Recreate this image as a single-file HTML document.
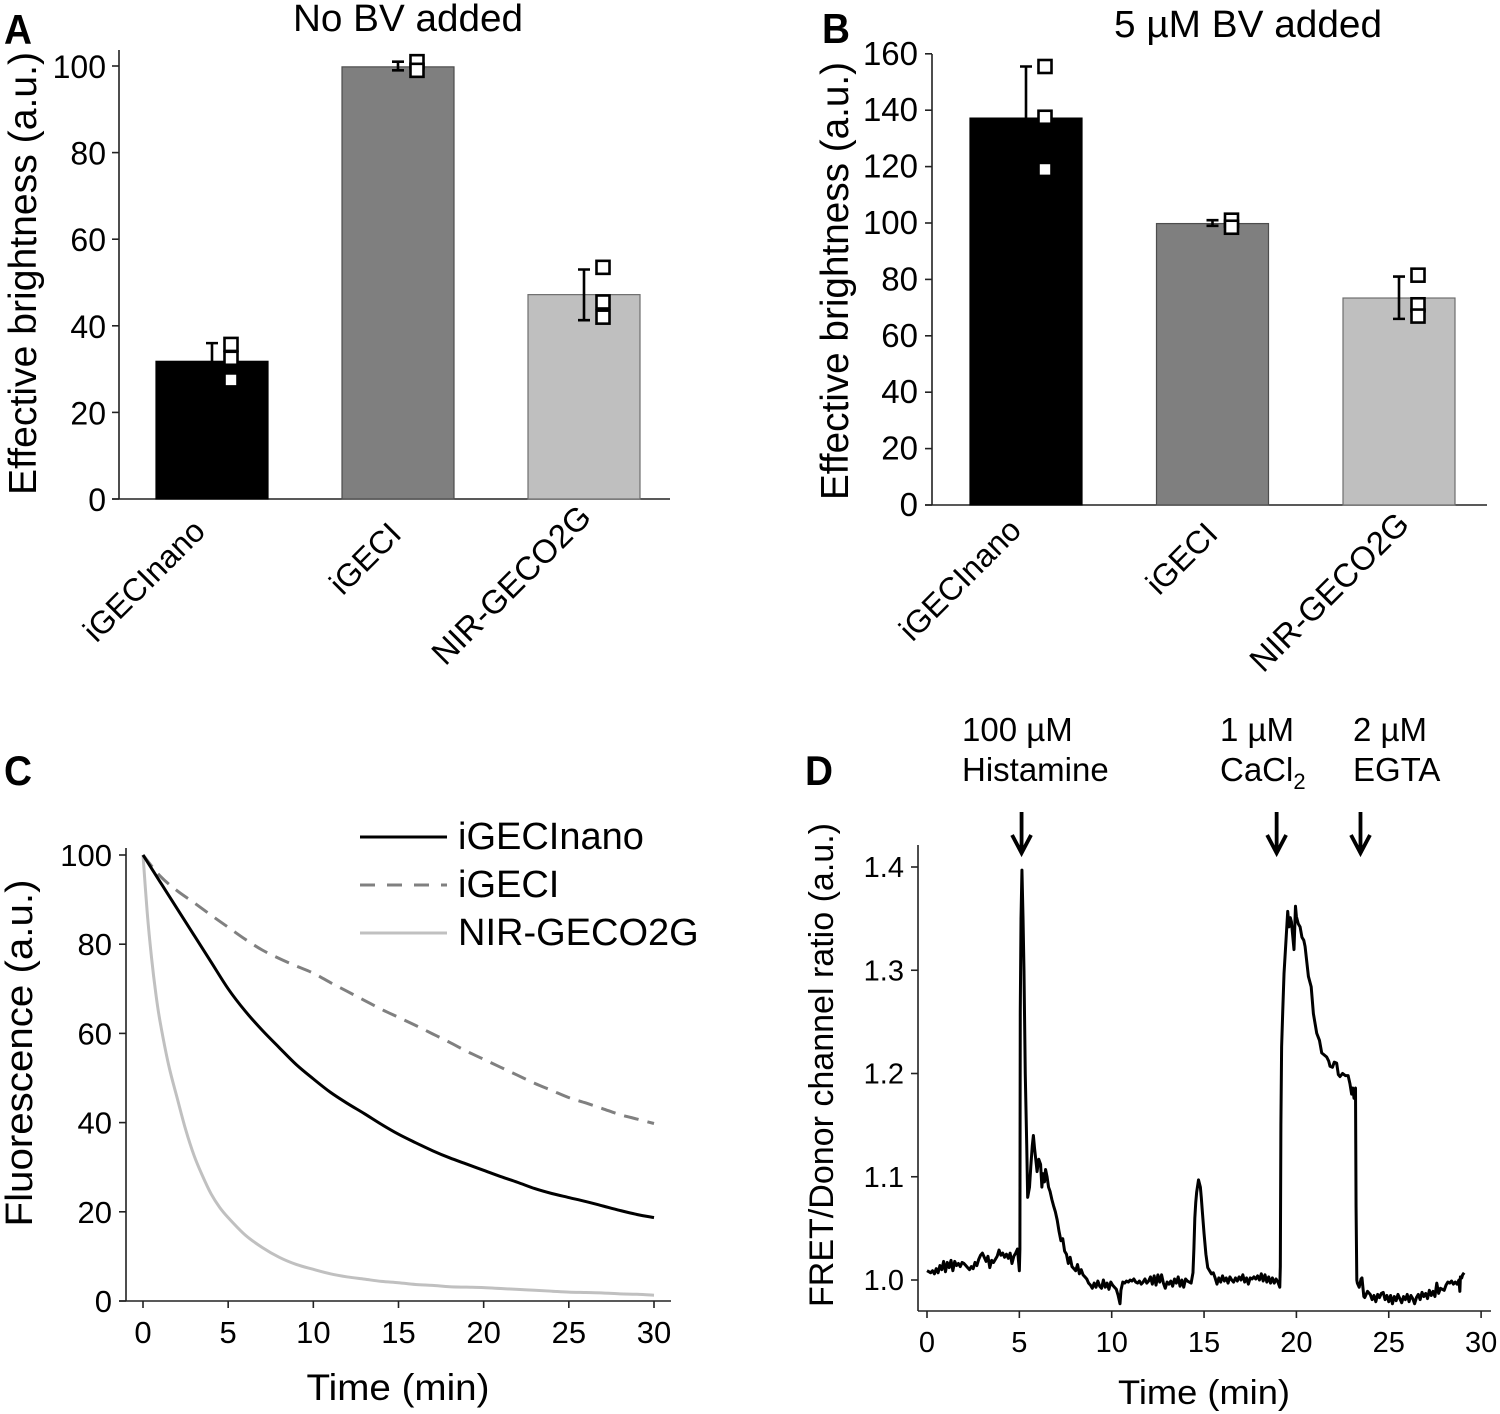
<!DOCTYPE html>
<html lang="en">
<head>
<meta charset="utf-8">
<title>Effective brightness, photostability and FRET response of iGECI variants</title>
<style>
html,body{margin:0;padding:0;background:#fff;}
svg{display:block;}
text{font-family:"Liberation Sans",Arial,sans-serif;fill:#000;}
</style>
</head>
<body>
<svg id="figure" xmlns="http://www.w3.org/2000/svg" width="1500" height="1414" viewBox="0 0 1500 1414"></svg>
<script>
/* ---------- Panel A / B data ---------- */
const barCategories = ["iGECInano", "iGECI", "NIR-GECO2G"];
const barTicksA = [0, 20, 40, 60, 80, 100];
const barMeansA = [31.8, 99.8, 47.2];
const barErrHighA = [36, 101, 53];
const barErrLowA = [27.6, 99, 41.3];
const barPointsA = [[35.7, 32.5, 27.5], [101, 99], [53.5, 45.5, 42]];
const barTicksB = [0, 20, 40, 60, 80, 100, 120, 140, 160];
const barMeansB = [137.2, 99.8, 73.4];
const barErrHighB = [155.5, 101, 81];
const barErrLowB = [119, 99, 66];
const barPointsB = [[155.5, 137.5, 119], [101, 98.5], [81.5, 71, 67]];

/* ---------- Panel C data ---------- */
const decayTicksX = [0, 5, 10, 15, 20, 25, 30];
const decayTicksY = [0, 20, 40, 60, 80, 100];
const nanoTimes = [0, 1, 2, 3, 4, 5, 6, 7, 8, 9, 10, 11, 12, 13, 14, 15, 16, 17, 18, 19, 20, 21, 22, 23, 24, 25, 26, 27, 28, 29, 30];
const nanoValues = [100, 94, 88, 82, 76, 70, 65, 60.7, 56.8, 53, 49.8, 46.8, 44.3, 42, 39.6, 37.4, 35.5, 33.7, 32.1, 30.7, 29.3, 27.9, 26.6, 25.2, 24.1, 23.2, 22.3, 21.3, 20.3, 19.4, 18.7];
const igeciTimes = [0, 1, 2, 3, 4, 5, 6, 7, 8, 9, 10, 11, 12, 13, 14, 15, 16, 17, 18, 19, 20, 21, 22, 23, 24, 25, 26, 27, 28, 29, 30];
const igeciValues = [100, 95.3, 92, 89.3, 86.5, 83.8, 81.1, 78.7, 76.8, 75.1, 73.5, 71.4, 69.4, 67.4, 65.4, 63.6, 61.8, 59.9, 58, 56, 54.2, 52.4, 50.6, 48.8, 47.2, 45.6, 44.4, 43.1, 41.8, 40.8, 39.8];
const nirTimes = [0, 0.25, 0.5, 0.75, 1, 1.5, 2, 2.5, 3, 3.5, 4, 4.5, 5, 6, 7, 8, 9, 10, 11, 12, 13, 14, 15, 16, 17, 18, 19, 20, 21, 22, 23, 24, 25, 26, 27, 28, 29, 30];
const nirValues = [100, 87, 77, 69, 62.7, 53, 45.6, 38.5, 32.6, 28, 24, 21, 18.7, 14.8, 12, 9.8, 8.2, 7.1, 6.1, 5.4, 4.9, 4.4, 4.1, 3.7, 3.5, 3.2, 3.1, 3, 2.8, 2.6, 2.4, 2.2, 2, 1.9, 1.8, 1.6, 1.5, 1.3];

/* ---------- Panel D data ---------- */
const ratioTicksX = [0, 5, 10, 15, 20, 25, 30];
const ratioTicksY = [1.0, 1.1, 1.2, 1.3, 1.4];
const arrowTimes = [5.12, 18.93, 23.47];
const traceTimes = [
0,.1,.2,.3,.4,.5,.6,.7,.8,.9,
1,1.1,1.2,1.3,1.4,1.5,1.6,1.7,1.8,1.9,
2,2.1,2.2,2.3,2.4,2.5,2.6,2.7,2.8,2.9,
3,3.1,3.2,3.3,3.4,3.5,3.6,3.7,3.8,3.9,
4,4.1,4.2,4.3,4.4,4.5,4.6,4.7,4.8,4.9,
5.0,5.03,5.05,5.09,5.14,5.2,5.25,5.32,5.4,5.45,
5.5,5.55,5.62,5.7,5.76,5.82,5.9,5.96,6.05,6.15,
6.22,6.28,6.36,6.42,6.5,6.58,6.66,6.76,6.85,6.95,
7.05,7.15,7.25,7.35,7.45,7.55,7.65,7.75,7.85,7.95,
8.05,8.15,8.25,8.35,8.45,8.55,8.65,8.75,8.85,8.95,
9.05,9.15,9.25,9.35,9.45,9.55,9.65,9.75,9.85,9.95,
10.05,10.15,10.25,10.35,10.45,10.5,10.6,10.7,10.8,10.9,
11,11.1,11.2,11.3,11.4,11.5,11.6,11.7,11.8,11.9,
12,12.1,12.2,12.3,12.4,12.5,12.6,12.7,12.8,12.9,
13,13.1,13.2,13.3,13.4,13.5,13.6,13.7,13.8,13.9,
14,14.1,14.2,14.3,14.4,14.45,14.5,14.55,14.6,14.7,
14.8,14.85,14.9,15,15.1,15.2,15.3,15.4,15.5,15.6,
15.7,15.8,15.9,16,16.1,16.2,16.3,16.4,16.5,16.6,
16.7,16.8,16.9,17,17.1,17.2,17.3,17.4,17.5,17.6,
17.7,17.8,17.9,18,18.1,18.2,18.3,18.4,18.5,18.6,
18.7,18.8,18.9,19.0,19.1,19.13,19.16,19.2,19.26,19.33,
19.44,19.53,19.6,19.67,19.73,19.87,19.95,20.0,20.1,20.2,
20.3,20.4,20.47,20.65,20.8,20.92,21.1,21.25,21.37,21.64,
21.75,21.82,21.95,22.05,22.18,22.27,22.36,22.5,22.65,22.8,
22.9,22.99,23.05,23.12,23.2,23.23,23.27,23.3,23.4,23.5,
23.55,23.65,23.7,23.85,24,24.1,24.2,24.3,24.4,24.5,
24.6,24.7,24.8,24.9,25,25.1,25.2,25.3,25.4,25.5,
25.6,25.7,25.8,25.9,26,26.1,26.2,26.3,26.4,26.5,
26.6,26.7,26.8,26.9,27,27.1,27.2,27.3,27.4,27.5,
27.6,27.7,27.8,27.9,28,28.1,28.2,28.3,28.4,28.5,
28.6,28.7,28.8,28.85,28.88,28.95,29.0,29.08
];
const traceRatios = [
1.009,1.008,1.007,1.009,1.006,1.011,1.007,1.014,1.010,1.018,
1.008,1.017,1.012,1.019,1.009,1.018,1.014,1.016,1.013,1.017,
1.016,1.014,1.012,1.010,1.013,1.011,1.017,1.014,1.020,1.024,
1.026,1.022,1.018,1.023,1.012,1.019,1.017,1.020,1.023,1.029,
1.024,1.026,1.022,1.025,1.021,1.026,1.016,1.023,1.026,1.030,
1.009,1.03,1.26,1.35,1.397,1.35,1.30,1.20,1.13,1.08,
1.085,1.09,1.11,1.13,1.14,1.128,1.115,1.105,1.117,1.112,
1.09,1.103,1.095,1.107,1.10,1.09,1.086,1.078,1.072,1.066,
1.058,1.047,1.038,1.04,1.028,1.025,1.016,1.022,1.013,1.011,
1.009,1.015,1.006,1.010,1.005,1.003,1.001,0.997,0.995,0.992,
.997,.993,.999,.994,.992,1.000,.993,.997,.991,.998,
.995,.993,.991,.985,.977,.990,.998,.997,.999,.998,
1.000,.999,1.001,.998,.997,.999,.996,.998,1.001,.997,
.999,1.003,.996,1.004,.995,1.005,.998,1.005,.997,.992,
.998,.996,.999,.994,1.001,.997,1.003,.994,1.000,.993,
1.001,.999,.998,.997,1.007,1.03,1.06,1.075,1.085,1.097,
1.09,1.08,1.068,1.045,1.025,1.012,1.009,1.006,1.007,1.002,
.996,1.002,.998,1.004,.999,1.002,.997,1.003,1.000,.998,
1.002,.999,1.003,1.000,1.005,.998,1.002,.996,1.002,1.001,
1.003,1.001,1.004,1.000,1.006,.999,1.005,.998,1.003,.997,
1.002,.997,1.001,.998,.993,1.013,1.15,1.226,1.26,1.297,
1.33,1.357,1.342,1.351,1.347,1.32,1.362,1.352,1.345,1.342,
1.332,1.329,1.323,1.294,1.284,1.258,1.239,1.232,1.22,1.216,
1.212,1.207,1.206,1.211,1.21,1.199,1.197,1.200,1.198,1.198,
1.19,1.18,1.186,1.176,1.186,1.071,1.0,.997,.993,1.001,
1.002,.984,.983,.989,.986,.981,.985,.979,.986,.983,
.987,.988,.981,.985,.979,.985,.977,.984,.980,.986,
.982,.978,.984,.981,.986,.979,.985,.982,.977,.983,
.986,.981,.988,.984,.987,.982,.990,.985,.989,.984,
.997,.987,.992,.991,.990,.995,.998,.997,.999,.996,
.998,.996,1.000,.989,1.003,1.002,1.005,1.007
];

/* ---------- helpers ---------- */
const NS = "http://www.w3.org/2000/svg";
const root = document.getElementById("figure");
function node(tag, attrs, parent, content) {
  const n = document.createElementNS(NS, tag);
  for (const k in attrs) n.setAttribute(k, attrs[k]);
  if (content !== undefined) n.textContent = content;
  (parent || root).appendChild(n);
  return n;
}
function makePath(xs, ys, xFn, yFn) {
  const count = Math.min(xs.length, ys.length);
  let d = "";
  for (let i = 0; i < count; i++) {
    d += (i ? "L" : "M") + xFn(xs[i]).toFixed(2) + " " + yFn(ys[i]).toFixed(2);
  }
  return d;
}
function makeSmoothPath(xs, ys, xFn, yFn) {
  const count = Math.min(xs.length, ys.length);
  const px = [], py = [];
  for (let i = 0; i < count; i++) { px.push(xFn(xs[i])); py.push(yFn(ys[i])); }
  let d = "M" + px[0].toFixed(2) + " " + py[0].toFixed(2);
  for (let i = 0; i < count - 1; i++) {
    const a = Math.max(i - 1, 0), b = Math.min(i + 2, count - 1);
    const c1x = px[i] + (px[i + 1] - px[a]) / 6, c1y = py[i] + (py[i + 1] - py[a]) / 6;
    const c2x = px[i + 1] - (px[b] - px[i]) / 6, c2y = py[i + 1] - (py[b] - py[i]) / 6;
    d += "C" + c1x.toFixed(2) + " " + c1y.toFixed(2) + " " + c2x.toFixed(2) + " " + c2y.toFixed(2) + " " + px[i + 1].toFixed(2) + " " + py[i + 1].toFixed(2);
  }
  return d;
}
function drawTitle(group, str, x, y, size, length, vertical) {
  const attrs = {"font-size": size, "text-anchor": "middle"};
  if (vertical) { attrs.transform = "translate(" + x + " " + y + ") rotate(-90)"; }
  else { attrs.x = x; attrs.y = y; }
  if (length) { attrs.textLength = length; attrs.lengthAdjust = "spacingAndGlyphs"; }
  return node("text", attrs, group, str);
}
function panelLetter(group, str, x, y) {
  return node("text", {x: x, y: y, "font-size": 42, "font-weight": "bold", textLength: 28, lengthAdjust: "spacingAndGlyphs"}, group, str);
}

/* ---------- bar panels ---------- */
function drawBarPanel(o) {
  const g = node("g", {}, root);
  
  
  const y = v => o.zeroY - v * o.pxPerUnit;
  const center = i => o.firstCenter + i * o.step;
  const fills = ["#000000", "#7f7f7f", "#bfbfbf"];
  const edges = ["#000000", "#4d4d4d", "#6e6e6e"];

  const axisY = node("line", {x1: o.axisX, x2: o.axisX, y1: o.axisTop, y2: o.zeroY, stroke: "#222", "stroke-width": 1.6}, g);
  
  

  const axisX = node("line", {x1: o.axisX - 7, x2: o.axisEnd, y1: o.zeroY, y2: o.zeroY, stroke: "#222", "stroke-width": 1.6}, g);
  
  

  o.ticks.forEach(t => {
    const mark = node("line", {x1: o.axisX - 7, x2: o.axisX, y1: y(t), y2: y(t), stroke: "#222", "stroke-width": 1.6}, g);
    
    
    const lab = node("text", {x: o.labelX, y: y(t) + o.labelDy, "font-size": o.tickSize, "text-anchor": "end"}, g, String(t));
    
    
  });

  o.means.forEach((m, i) => {
    const bar = node("rect", {x: center(i) - 56, y: y(m), width: 112, height: o.zeroY - y(m), fill: fills[i], stroke: edges[i], "stroke-width": 1.2}, g);
    
    

    const ex = center(i);
    const err = node("path", {
      d: "M" + ex + " " + y(o.errHigh[i]) + "V" + y(o.errLow[i]) +
         "M" + (ex - 6) + " " + y(o.errHigh[i]) + "H" + (ex + 6) +
         "M" + (ex - 6) + " " + y(o.errLow[i]) + "H" + (ex + 6),
      fill: "none", stroke: "#000", "stroke-width": 2.6}, g);
    
    

    o.points[i].forEach(p => {
      const pt = node("rect", {x: ex + 19 - 6.5, y: y(p) - 6.5, width: 13, height: 13, fill: "#fff", stroke: "#000", "stroke-width": 2.6}, g);
      
      
    });

    const lab = node("text", {"font-size": o.catSize[i], "text-anchor": "end", transform: "translate(" + (center(i) + o.catOffsetX[i]) + " " + (o.catY[i]) + ") rotate(-45)"}, g, barCategories[i]);
    
    
  });

  const yt = drawTitle(g, "Effective brightness (a.u.)", o.titleX, o.titleMid, 39, o.titleLen, true);
  
  

  const head = drawTitle(g, o.heading, o.headX, o.headY, 38, o.headLen, false);
  
  

  const letter = panelLetter(g, o.letter, o.letterX, o.letterY);
  
  
}

drawBarPanel({
  name: "panel-a", letter: "A", letterX: 4, letterY: 44, heading: "No BV added", headX: 408, headY: 31, headLen: 230,
  axisX: 119, axisTop: 50, axisEnd: 670, zeroY: 499, pxPerUnit: 4.33, firstCenter: 212, step: 186,
  ticks: barTicksA, means: barMeansA, errHigh: barErrHighA, errLow: barErrLowA, points: barPointsA,
  labelX: 106, labelDy: 12, tickSize: 32, titleX: 36, titleMid: 273.5, titleLen: 443,
  catOffsetX: [-5, 5, 9], catY: [533, 536, 519], catSize: [32, 32, 33]
});
drawBarPanel({
  name: "panel-b", letter: "B", letterX: 822, letterY: 43, heading: "5 \u00B5M BV added", headX: 1248, headY: 37, headLen: 268,
  axisX: 932, axisTop: 54, axisEnd: 1487, zeroY: 505, pxPerUnit: 2.82, firstCenter: 1026, step: 186.5,
  ticks: barTicksB, means: barMeansB, errHigh: barErrHighB, errLow: barErrLowB, points: barPointsB,
  labelX: 918, labelDy: 11, tickSize: 33, titleX: 848, titleMid: 281, titleLen: 438,
  catOffsetX: [-3, 7, 12], catY: [532, 536, 526], catSize: [32, 32, 33]
});

/* ---------- panel C ---------- */
(function () {
  const g = node("g", {}, root);
  
  
  const x = t => 143 + t * (654 - 143) / 30;
  const y = v => 1301 - v * 4.46;

  const axisY = node("line", {x1: 126, x2: 126, y1: 848, y2: 1301, stroke: "#222", "stroke-width": 1.6}, g);
  
  

  const axisX = node("line", {x1: 119, x2: 671, y1: 1301, y2: 1301, stroke: "#222", "stroke-width": 1.6}, g);
  
  

  decayTicksY.forEach(t => {
    const mark = node("line", {x1: 119, x2: 126, y1: y(t), y2: y(t), stroke: "#222", "stroke-width": 1.6}, g);
    
    
    const lab = node("text", {x: 112, y: y(t) + 11, "font-size": 31, "text-anchor": "end"}, g, String(t));
    
    
  });
  decayTicksX.forEach(t => {
    const mark = node("line", {x1: x(t), x2: x(t), y1: 1301, y2: 1308, stroke: "#222", "stroke-width": 1.6}, g);
    
    
    const lab = node("text", {x: x(t), y: 1343, "font-size": 31, "text-anchor": "middle"}, g, String(t));
    
    
  });

  const nir = node("path", {d: makeSmoothPath(nirTimes, nirValues, x, y), fill: "none", stroke: "#c0c0c0", "stroke-width": 3}, g);
  
  

  const igeci = node("path", {d: makeSmoothPath(igeciTimes, igeciValues, x, y), fill: "none", stroke: "#808080", "stroke-width": 3, "stroke-dasharray": "15 9"}, g);
  
  

  const nano = node("path", {d: makeSmoothPath(nanoTimes, nanoValues, x, y), fill: "none", stroke: "#000", "stroke-width": 3}, g);
  
  

  const legendRows = [["iGECInano", "#000", "", 837, 849], ["iGECI", "#808080", "15 12", 885, 897], ["NIR-GECO2G", "#c0c0c0", "", 933, 945]];
  legendRows.forEach(r => {
    const sw = node("line", {x1: 360, x2: 447, y1: r[3], y2: r[3], stroke: r[1], "stroke-width": 3, "stroke-dasharray": r[2] || "none"}, g);
    
    
    const lab = node("text", {x: 458, y: r[4], "font-size": 38}, g, r[0]);
    
    
  });

  const yt = drawTitle(g, "Fluorescence (a.u.)", 32, 1053, 38, 347, true);
  
  

  const xt = drawTitle(g, "Time (min)", 398, 1400, 37, 183, false);
  
  

  const letter = panelLetter(g, "C", 4, 785);
  
  
})();

/* ---------- panel D ---------- */
(function () {
  const g = node("g", {}, root);
  
  
  const x = t => 927 + t * 18.47;
  const y = v => 1280 - (v - 1) * 1032.5;

  const axisY = node("line", {x1: 918, x2: 918, y1: 845, y2: 1311, stroke: "#222", "stroke-width": 1.6}, g);
  
  

  const axisX = node("line", {x1: 918, x2: 1491, y1: 1311, y2: 1311, stroke: "#222", "stroke-width": 1.6}, g);
  
  

  ratioTicksY.forEach(t => {
    const mark = node("line", {x1: 911, x2: 918, y1: y(t), y2: y(t), stroke: "#222", "stroke-width": 1.6}, g);
    
    
    const lab = node("text", {x: 904, y: y(t) + 10, "font-size": 29, "text-anchor": "end"}, g, t.toFixed(1));
    
    
  });
  ratioTicksX.forEach(t => {
    const mark = node("line", {x1: x(t), x2: x(t), y1: 1311, y2: 1318, stroke: "#222", "stroke-width": 1.6}, g);
    
    
    const lab = node("text", {x: x(t), y: 1352, "font-size": 29, "text-anchor": "middle"}, g, String(t));
    
    
  });

  const trace = node("path", {d: makePath(traceTimes, traceRatios, x, y), fill: "none", stroke: "#000", "stroke-width": 3, "stroke-linejoin": "round"}, g);
  
  

  arrowTimes.forEach(t => {
    const ax = x(t);
    const arrow = node("path", {d: "M" + ax + " 812V853M" + (ax - 9.5) + " 835L" + ax + " 853L" + (ax + 9.5) + " 835", fill: "none", stroke: "#000", "stroke-width": 3.8}, g);
    
    
  });

  const annotations = [["100 \u00B5M", 962, 741], ["Histamine", 962, 781], ["1 \u00B5M", 1220, 741], ["2 \u00B5M", 1353, 741], ["EGTA", 1353, 781]];
  annotations.forEach(a => {
    const lab = node("text", {x: a[1], y: a[2], "font-size": 33}, g, a[0]);
    
    
  });
  const ca = node("text", {x: 1220, y: 781, "font-size": 33}, g, "CaCl");
  
  
  const sub = node("tspan", {dy: 8, "font-size": 22}, ca, "2");
  
  

  const yt = drawTitle(g, "FRET/Donor channel ratio (a.u.)", 833, 1065, 34, 484, true);
  
  

  const xt = drawTitle(g, "Time (min)", 1204, 1404, 34.5, 172, false);
  
  

  const letter = panelLetter(g, "D", 805, 785);
  
  
})();
</script>
</body>
</html>
